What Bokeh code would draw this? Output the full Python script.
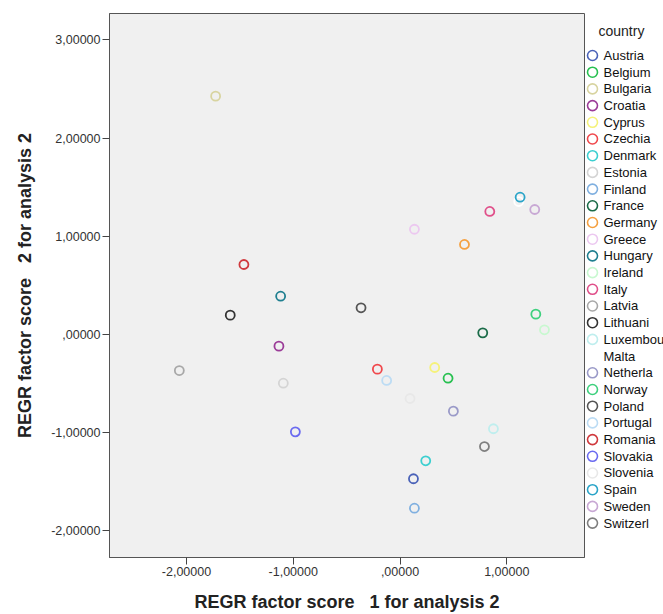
from bokeh.plotting import figure
from bokeh.models import Range1d, FixedTicker, CustomJSTickFormatter
from bokeh.layouts import row
from bokeh.core.properties import value
from bokeh.embed import file_html
from bokeh.resources import INLINE

countries = ["Austria", "Belgium", "Bulgaria", "Croatia", "Cyprus", "Czechia", "Denmark",
             "Estonia", "Finland", "France", "Germany", "Greece", "Hungary", "Ireland",
             "Italy", "Latvia", "Lithuani", "Luxembourg", "Malta", "Netherla", "Norway",
             "Poland", "Portugal", "Romania", "Slovakia", "Slovenia", "Spain", "Sweden",
             "Switzerl"]
score1 = [0.126, 0.450, -1.727, -1.134, 0.325, -0.212, 0.241,
          -1.093, 0.135, 0.775, 0.604, 0.135, -1.118, 1.353,
          0.841, -2.067, -1.590, 0.875, 1.112, 0.500, 1.272,
          -0.365, -0.125, -1.462, -0.980, 0.094, 1.125, 1.262,
          0.791]
score2 = [-1.469, -0.445, 2.427, -0.119, -0.336, -0.353, -1.286,
          -0.496, -1.769, 0.017, 0.917, 1.072, 0.390, 0.048,
          1.253, -0.367, 0.197, -0.960, 1.354, -0.781, 0.207,
          0.272, -0.468, 0.713, -0.991, -0.652, 1.398, 1.273,
          -1.141]
colors = ["#4a62b8", "#27c050", "#d8d4a0", "#9b3c98", "#f5f27a", "#f0484c", "#3ccfd0",
          "#d4d4d4", "#80b0e0", "#1a6b48", "#f5a040", "#ecc8f0", "#1f7f90", "#c8f8d0",
          "#e0508a", "#a8a8a8", "#333333", "#bfeeee", "#ffffff", "#9a9ac8", "#3ed07e",
          "#555555", "#bcdcf4", "#d03a3e", "#6b6bf0", "#e8e8e8", "#2aa4c8", "#c8a8d4",
          "#7f7f7f"]
ticks = [-2, -1, 0, 1, 2, 3]
legend_title = "country"

FONT = "Liberation Sans"
H = 614

p = figure(width=585, height=H, output_backend="svg", toolbar_location=None,
           x_range=Range1d(-2.721, 1.728), y_range=Range1d(-2.271, 3.269),
           min_border_left=109, min_border_right=1, min_border_top=13, min_border_bottom=57)
p.background_fill_color = "#f0f0f0"
p.border_fill_color = "white"
p.outline_line_color = "#555555"
p.grid.visible = False

fmt = CustomJSTickFormatter(code="""
    var s = Math.abs(tick).toFixed(5).replace('.', ',');
    if (s.indexOf('0,') === 0) { s = s.substring(1); }
    return (tick < 0 ? '-' : '') + s;
""")
for ax in (p.xaxis[0], p.yaxis[0]):
    ax.ticker = FixedTicker(ticks=ticks)
    ax.formatter = fmt
    ax.minor_tick_line_color = None
    ax.major_tick_in = 0
    ax.major_tick_out = 7
    ax.major_tick_line_color = "#444444"
    ax.axis_line_color = "#555555"
    ax.major_label_text_font = FONT
    ax.major_label_text_font_size = "12.5px"
    ax.major_label_text_color = "#333333"
    ax.major_label_standoff = 2
    ax.axis_label_text_font = FONT
    ax.axis_label_text_font_size = "18px"
    ax.axis_label_text_font_style = "bold"
    ax.axis_label_text_color = "#222222"
    ax.axis_label_standoff = 13

p.xaxis.axis_label = "REGR factor score\u00a0\u00a0 1 for analysis 2"
p.yaxis.axis_label = "REGR factor score\u00a0\u00a0 2 for analysis 2"

for i in range(len(countries)):
    p.scatter(x=[score1[i]], y=[score2[i]], marker="circle", size=9,
              fill_color=None, line_color=colors[i], line_width=1.8)

# legend panel (its frame is aligned with the main frame: 13..557)
idx = list(range(len(countries)))
lg = figure(width=78, height=H, output_backend="svg", toolbar_location=None,
            x_range=Range1d(0, 78), y_range=Range1d(30.06, -2.515),
            x_axis_type=None, y_axis_type=None,
            min_border_left=0, min_border_right=0, min_border_top=13, min_border_bottom=57)
lg.outline_line_color = None
lg.grid.visible = False
lg.background_fill_color = "white"
lg.border_fill_color = "white"
lg.scatter(x=[7] * len(idx), y=idx, marker="circle", size=10,
           fill_color=None, line_color=colors, line_width=1.6)
lg.text(x=[18] * len(idx), y=idx, text=countries, text_baseline="middle",
        text_font=value(FONT), text_font_size="13px", text_color="#111111")
lg.text(x=[13], y=[-1.44], text=[legend_title], text_baseline="middle",
        text_font=value(FONT), text_font_size="14px", text_color="#222222")

layout = row(p, lg)
open("out.html", "w").write(file_html(layout, INLINE))
